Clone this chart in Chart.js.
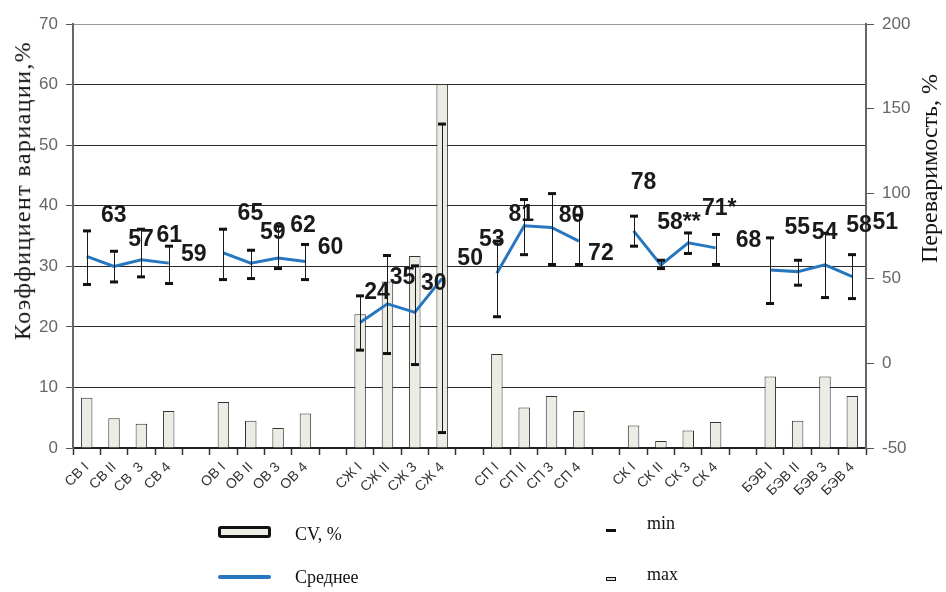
<!DOCTYPE html>
<html>
<head>
<meta charset="utf-8">
<script src="https://cdn.jsdelivr.net/npm/chart.js@4/dist/chart.umd.min.js"></script>
<style>
  html, body { margin: 0; padding: 0; background: #fff; }
  #wrap { position: relative; width: 946px; height: 592px; overflow: hidden; }
  #c { position: absolute; left: 0; top: 0; }
  .serif { font-family: "Liberation Serif", "Times New Roman", serif; color: #111; position: absolute; white-space: nowrap; }
  .ytitle { font-size: 24px; transform-origin: center center; }
  #tL { letter-spacing: 1.4px; }
  .leg { font-size: 18px; }
  .swatch { position: absolute; }
</style>
</head>
<body>
<div id="wrap">
  <canvas id="c" width="946" height="592"></canvas>
  <div class="serif ytitle" id="tL">Коэффициент вариации,%</div>
  <div class="serif ytitle" id="tR">Переваримость, %</div>

  <div class="swatch" style="left:218px;top:526px;width:47px;height:6px;border:3px solid #111;border-radius:3px;background:#EEEDE6;"></div>
  <div class="serif leg" style="left:295px;top:524px;">CV, %</div>
  <div class="swatch" style="left:218px;top:575px;width:53px;height:4px;background:#2677BF;border-radius:2px;"></div>
  <div class="serif leg" style="left:295px;top:567px;">Среднее</div>
  <div class="swatch" style="left:606px;top:529px;width:10px;height:3px;background:#111;"></div>
  <div class="serif leg" style="left:647px;top:513px;">min</div>
  <div class="swatch" style="left:606px;top:577px;width:8px;height:2px;border:1px solid #111;background:#ddd;"></div>
  <div class="serif leg" style="left:647px;top:564px;">max</div>
</div>
<script>
// Groups of feeds, four samples each; empty slots separate the groups
const categories = [
  'СВ I', 'СВ II', 'СВ  3', 'СВ 4', '',
  'ОВ I', 'ОВ II', 'ОВ 3', 'ОВ 4', '',
  'СЖ I', 'СЖ II', 'СЖ 3', 'СЖ 4', '',
  'СП I', 'СП II', 'СП 3', 'СП 4', '',
  'СК I', 'СК II', 'СК 3', 'СК 4', '',
  'БЭВ I', 'БЭВ II', 'БЭВ 3', 'БЭВ 4'
];

// Coefficient of variation, % (left axis)
const cvValues = [
  8.3, 4.9, 4.0, 6.1, null,
  7.6, 4.5, 3.3, 5.7, null,
  22.1, 27.5, 31.7, 60.1, null,
  15.5, 6.7, 8.6, 6.1, null,
  3.7, 1.15, 2.9, 4.3, null,
  11.8, 4.5, 11.8, 8.6
];

// Mean digestibility, % (right axis)
const meanValues = [
  63, 57, 61, 59, null,
  65, 59, 62, 60, null,
  24, 35, 30, 50, null,
  53, 81, 80, 72, null,
  78, 58, 71, 68, null,
  55, 54, 58, 51
];

// Significance marks appended to the mean labels
const meanMarks = [
  '', '', '', '', '',
  '', '', '', '', '',
  '', '', '', '', '',
  '', '', '', '', '',
  '', '**', '*', '', '',
  '', '', '', ''
];

// Minimum and maximum digestibility, % (right axis)
const minValues = [
  46.4, 47.9, 50.9, 47, null,
  49.3, 49.9, 55.8, 49.3, null,
  7.7, 5.7, -0.8, -40.9, null,
  27.4, 64, 58.2, 58.2, null,
  69, 55.8, 64.7, 58.2, null,
  35.2, 46, 38.7, 38.1
];
const maxValues = [
  78, 66, 79, 69, null,
  79, 66.6, 80.8, 70, null,
  39.7, 63.5, 57.4, 141, null,
  72, 96.5, 100, 87.3, null,
  86.7, 60.7, 76.8, 75.9, null,
  73.9, 60.7, 76.6, 64
];

const leftTicks = { min: 0, max: 70, step: 10 };
const rightTicks = { min: -50, max: 200, step: 50 };

// Label placement next to each mean point, pixels [dx, dy]
const labelShift = [
  [27, -41], [27, -27], [28, -24], [25, -8], null,
  [27, -39], [22, -30], [25, -32], [25, -14], null,
  [17, -30], [15, -26], [19, -29], [28, -20], null,
  [-5, -34], [-3, -11], [20, -12], [22, 13], null,
  [10, -48], [18, -42], [31, -34], [33, -7], null,
  [27, -42], [27, -39], [34, -39], [33, -54]
];

// Whiskers from min to max around each mean
const rangeBars = {
  id: 'rangeBars',
  afterDatasetsDraw(chart) {
    const ctx = chart.ctx;
    const xs = chart.scales.x, ys = chart.scales.yR;
    ctx.save();
    for (let i = 0; i < categories.length; i++) {
      if (minValues[i] == null || maxValues[i] == null) continue;
      const x = Math.round(xs.getPixelForValue(i)) + 0.5;
      const yTop = ys.getPixelForValue(maxValues[i]);
      const yBot = ys.getPixelForValue(minValues[i]);
      ctx.strokeStyle = '#1a1a1a';
      ctx.lineWidth = 1;
      ctx.beginPath();
      ctx.moveTo(x, yTop);
      ctx.lineTo(x, yBot);
      ctx.stroke();
      ctx.fillStyle = '#111';
      ctx.fillRect(x - 4.5, yTop - 1.5, 8, 3);
      ctx.fillRect(x - 4.5, yBot - 1.5, 8, 3);
    }
    ctx.restore();
  }
};

// Value labels for the mean line
const meanLabels = {
  id: 'meanLabels',
  afterDatasetsDraw(chart) {
    const ctx = chart.ctx;
    const xs = chart.scales.x, ys = chart.scales.yR;
    ctx.save();
    ctx.font = 'bold 23px "Liberation Sans", Arial, sans-serif';
    ctx.fillStyle = '#1a1a1a';
    ctx.textAlign = 'center';
    ctx.textBaseline = 'middle';
    for (let i = 0; i < categories.length; i++) {
      if (meanValues[i] == null) continue;
      const sh = labelShift[i] || [0, 0];
      const x = xs.getPixelForValue(i) + sh[0];
      const y = ys.getPixelForValue(meanValues[i]) + sh[1];
      ctx.fillText(String(meanValues[i]) + meanMarks[i], x, y);
    }
    ctx.restore();
  }
};

const tickFont = { family: '"Liberation Sans", Arial, sans-serif', size: 17 };

const chart = new Chart(document.getElementById('c'), {
  type: 'bar',
  data: {
    labels: categories,
    datasets: [
      {
        type: 'line',
        label: 'Среднее',
        data: meanValues,
        yAxisID: 'yR',
        borderColor: '#2677BF',
        borderWidth: 3,
        pointRadius: 0,
        spanGaps: false,
        tension: 0,
        order: 0
      },
      {
        type: 'bar',
        label: 'CV, %',
        data: cvValues,
        yAxisID: 'yL',
        backgroundColor: '#EDECE4',
        borderColor: '#333',
        borderWidth: 1,
        barPercentage: 0.42,
        categoryPercentage: 1,
        order: 1
      }
    ]
  },
  options: {
    responsive: false,
    animation: false,
    devicePixelRatio: 1,
    layout: { padding: { top: 24, left: 0, right: 0, bottom: 0 } },
    plugins: { legend: { display: false }, tooltip: { enabled: false } },
    scales: {
      x: {
        grid: { offset: true, drawOnChartArea: false, drawTicks: true, tickLength: 7, color: '#333', tickWidth: 1.5 },
        border: { color: '#222', width: 2 },
        ticks: {
          autoSkip: false, maxRotation: 45, minRotation: 45, padding: 4,
          color: '#333', font: { family: '"Liberation Sans", Arial, sans-serif', size: 14 }
        },
        afterFit(s) { s.height = 144; }
      },
      yL: {
        position: 'left',
        min: leftTicks.min, max: leftTicks.max,
        ticks: { stepSize: leftTicks.step, color: '#666', font: tickFont, padding: 8 },
        grid: {
          color: (c) => c.tick && c.tick.value === leftTicks.max ? '#999' : '#2a2a2a',
          lineWidth: 1, tickLength: 7, tickColor: '#555'
        },
        border: { color: '#666', width: 2 },
        afterFit(s) { s.width = 73; }
      },
      yR: {
        position: 'right',
        min: rightTicks.min, max: rightTicks.max,
        ticks: { stepSize: rightTicks.step, color: '#666', font: tickFont, padding: 8 },
        grid: { drawOnChartArea: false, tickLength: 8, tickColor: '#555' },
        border: { color: '#666', width: 2 },
        afterFit(s) { s.width = 80; }
      }
    }
  },
  plugins: [rangeBars, meanLabels]
});

// Place the rotated axis titles
function placeTitle(id, cx, cy) {
  const el = document.getElementById(id);
  const w = el.offsetWidth, h = el.offsetHeight;
  el.style.left = (cx - w / 2) + 'px';
  el.style.top = (cy - h / 2) + 'px';
  el.style.transform = 'rotate(-90deg)';
}
placeTitle('tL', 22, 190);
placeTitle('tR', 929, 168);
</script>
</body>
</html>
